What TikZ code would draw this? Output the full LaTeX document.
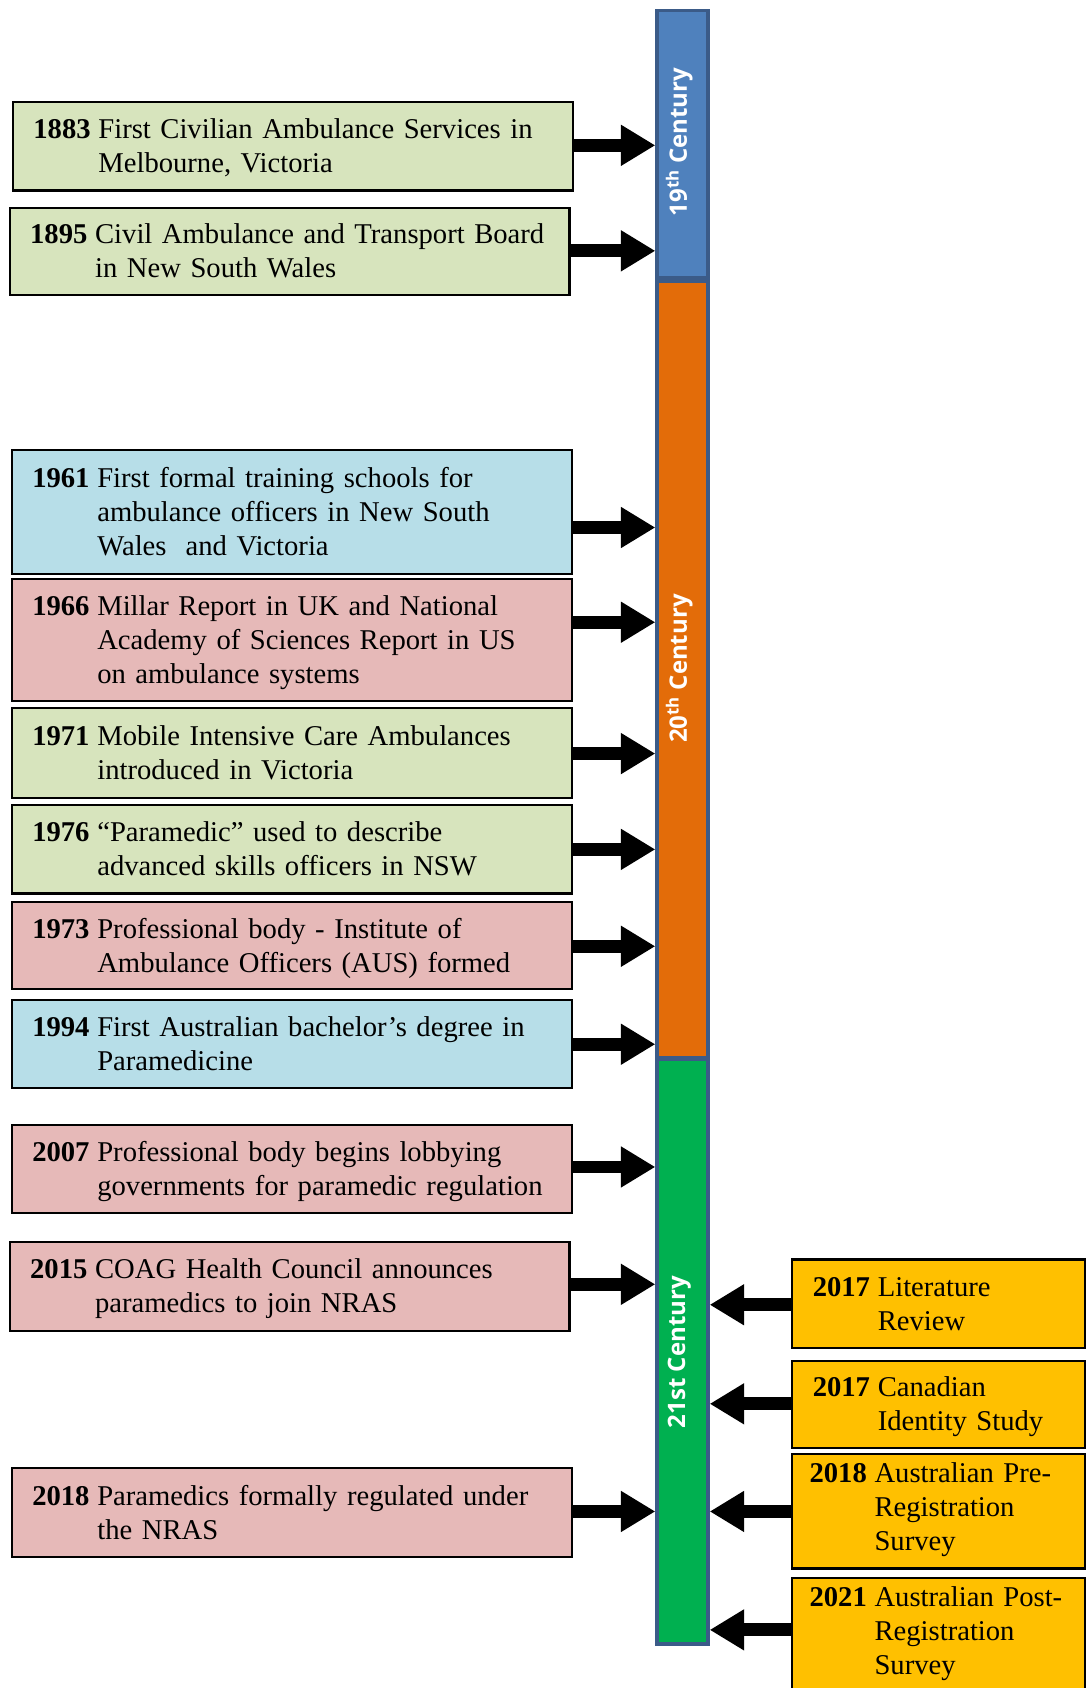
\documentclass[tikz,border=0pt]{standalone}
\usepackage{fontspec}
\setmainfont{Liberation Serif}
\newfontfamily\barfont{Open Sans}
\usetikzlibrary{arrows.meta}
\definecolor{bgreen}{HTML}{D7E4BD}
\definecolor{bblue}{HTML}{B7DEE8}
\definecolor{bpink}{HTML}{E6B9B8}
\definecolor{borange}{HTML}{FFC000}
\definecolor{cblue}{HTML}{4F81BD}
\definecolor{corange}{HTML}{E36C09}
\definecolor{cgreen}{HTML}{00B050}
\definecolor{cborder}{HTML}{3B5B88}
\newcommand{\ev}[3][-2.5pt]{\raisebox{#1}[\height][\depth]{\begin{tabular}{@{}l@{}l@{}}\textbf{#2}\kern0.27em & #3\end{tabular}}}
\begin{document}
\begin{tikzpicture}[x=1pt,y=-1pt,
  evbox/.style={draw=black, line width=2pt, anchor=north west, minimum width=520pt,
    text width=482pt, inner xsep=19pt, inner ysep=0pt, align=left,
    font=\fontsize{26.6}{31.6}\selectfont},
  rbox/.style={evbox, minimum width=272pt, text width=234pt},
  rbox3/.style={rbox, inner xsep=16pt, text width=240pt},
  barseg/.style={draw=cborder, line width=3.5pt, minimum width=47pt, inner sep=0pt},
  barlabel/.style={rotate=90, text=white, font=\barfont\bfseries\fontsize{22.3}{26}\selectfont},
  arr/.style={line width=12pt, -{Triangle[length=32pt,width=36pt]}}]
\useasboundingbox (0,0) rectangle (1009,1568);
% timeline bar
\node[barseg, fill=corange, minimum height=721.5pt] (bar2) at (634,621.5) {};
\node[barseg, fill=cgreen, minimum height=543.5pt] (bar3) at (634,1255.5) {};
\node[barseg, fill=cblue, minimum height=248.5pt] (bar1) at (634,134) {};
\node[barlabel] (l1) at (631,132) {19\textsuperscript{th} Century};
\node[barlabel] (l2) at (631,621) {20\textsuperscript{th} Century};
\node[barlabel] (l3) at (631,1256) {21st Century};
% left events
\node[evbox, fill=bgreen, minimum height=82pt] (e1883) at (11,94) {\ev{1883}{First Civilian Ambulance Services in\\ & Melbourne, Victoria}};
\node[evbox, fill=bgreen, minimum height=81pt] (e1895) at (8,192) {\ev{1895}{Civil Ambulance and Transport Board\\ & in New South Wales}};
\node[evbox, fill=bblue, minimum height=115pt] (e1961) at (10,417) {\ev{1961}{First formal training schools for\\ & ambulance officers in New South\\ & Wales\ \ and Victoria}};
\node[evbox, fill=bpink, minimum height=113pt] (e1966) at (10,537) {\ev{1966}{Millar Report in UK and National\\ & Academy of Sciences Report in US\\ & on ambulance systems}};
\node[evbox, fill=bgreen, minimum height=83pt] (e1971) at (10,657) {\ev{1971}{Mobile Intensive Care Ambulances\\ & introduced in Victoria}};
\node[evbox, fill=bgreen, minimum height=82pt] (e1976) at (10,747) {\ev{1976}{“Paramedic” used to describe\\ & advanced skills officers in NSW}};
\node[evbox, fill=bpink, minimum height=81pt] (e1973) at (10,837) {\ev{1973}{Professional body - Institute of\\ & Ambulance Officers (AUS) formed}};
\node[evbox, fill=bblue, minimum height=82pt] (e1994) at (10,928) {\ev{1994}{First Australian bachelor’s degree in\\ & Paramedicine}};
\node[evbox, fill=bpink, minimum height=82pt] (e2007) at (10,1044) {\ev{2007}{Professional body begins lobbying\\ & governments for paramedic regulation}};
\node[evbox, fill=bpink, minimum height=82pt] (e2015) at (8,1153) {\ev{2015}{COAG Health Council announces\\ & paramedics to join NRAS}};
\node[evbox, fill=bpink, minimum height=82pt] (e2018) at (10,1363) {\ev{2018}{Paramedics formally regulated under\\ & the NRAS}};
% right events
\node[rbox, fill=borange, minimum height=82pt] (r2017a) at (735,1169) {\ev{2017}{Literature\\ & Review}};
\node[rbox, fill=borange, minimum height=81pt] (r2017b) at (735,1263) {\ev{2017}{Canadian\\ & Identity Study}};
\node[rbox3, fill=borange, minimum height=106pt] (r2018) at (735,1350) {\ev[1.5pt]{2018}{Australian Pre-\\ & Registration\\ & Survey}};
\node[rbox3, fill=borange, minimum height=106pt] (r2021) at (735,1465) {\ev[1.5pt]{2021}{Australian Post-\\ & Registration\\ & Survey}};
% arrows
\draw[arr] (e1883.east |- 0,135) -- (bar1.west |- 0,135);
\draw[arr] (e1895.east |- 0,233) -- (bar1.west |- 0,233);
\draw[arr] (e1961.east |- 0,490) -- (bar2.west |- 0,490);
\draw[arr] (e1966.east |- 0,578) -- (bar2.west |- 0,578);
\draw[arr] (e1971.east |- 0,700) -- (bar2.west |- 0,700);
\draw[arr] (e1976.east |- 0,789) -- (bar2.west |- 0,789);
\draw[arr] (e1973.east |- 0,879) -- (bar2.west |- 0,879);
\draw[arr] (e1994.east |- 0,970) -- (bar2.west |- 0,970);
\draw[arr] (e2007.east |- 0,1084) -- (bar3.west |- 0,1084);
\draw[arr] (e2015.east |- 0,1193) -- (bar3.west |- 0,1193);
\draw[arr] (e2018.east |- 0,1404) -- (bar3.west |- 0,1404);
\draw[arr] (r2017a.west |- 0,1212) -- (bar3.east |- 0,1212);
\draw[arr] (r2017b.west |- 0,1304) -- (bar3.east |- 0,1304);
\draw[arr] (r2018.west |- 0,1404) -- (bar3.east |- 0,1404);
\draw[arr] (r2021.west |- 0,1514) -- (bar3.east |- 0,1514);
\end{tikzpicture}
\end{document}
